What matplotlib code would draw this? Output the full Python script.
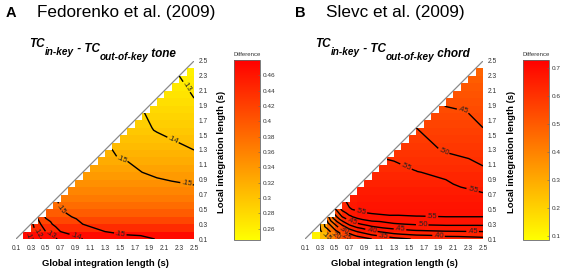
import matplotlib
matplotlib.use("Agg")
import matplotlib.pyplot as plt
import numpy as np
import matplotlib.tri as mtri
from matplotlib.path import Path

plt.rcParams['font.family'] = ['Liberation Sans', 'DejaVu Sans']

W, H = 567, 270

# ---------------- data ----------------
grid_edges = [0.1, 0.2, 0.3, 0.4, 0.5, 0.6, 0.7, 0.8, 0.9, 1.0, 1.1, 1.2, 1.3,
              1.4, 1.5, 1.6, 1.7, 1.8, 1.9, 2.0, 2.1, 2.2, 2.3, 2.4, 2.5]
tick_values = [0.1, 0.3, 0.5, 0.7, 0.9, 1.1, 1.3, 1.5, 1.7, 1.9, 2.1, 2.3, 2.5]
tick_labels = ['0.1', '0.3', '0.5', '0.7', '0.9', '1.1', '1.3', '1.5', '1.7',
               '1.9', '2.1', '2.3', '2.5']

# Panel A: colour (difference) per row of local integration length 0.1 .. 2.3
diff_a_rows = [0.470, 0.440, 0.415, 0.395, 0.380, 0.368, 0.357, 0.347, 0.338,
               0.330, 0.322, 0.315, 0.308, 0.302, 0.296, 0.290, 0.285, 0.280,
               0.275, 0.270, 0.266, 0.262, 0.258]
clim_a = (0.245, 0.48)
cbar_a_ticks = [0.26, 0.28, 0.30, 0.32, 0.34, 0.36, 0.38, 0.40, 0.42, 0.44, 0.46]

# Panel B: colour per row, plus the lighter cells in the lower-left corner
diff_b_rows = [0.640, 0.670, 0.680, 0.685, 0.680, 0.670, 0.660, 0.645, 0.635,
               0.620, 0.610, 0.600, 0.590, 0.580, 0.570, 0.560, 0.550, 0.540,
               0.530, 0.520, 0.510, 0.495, 0.480]
diff_b_corner = [[0.12, 0.26, 0.40, 0.50, 0.56, 0.60],
                 [0.30, 0.45, 0.55, 0.60, 0.64],
                 [0.45, 0.56, 0.63, 0.66],
                 [0.56, 0.64, 0.67],
                 [0.63, 0.67],
                 [0.66]]
clim_b = (0.086, 0.73)
cbar_b_ticks = [0.1, 0.2, 0.3, 0.4, 0.5, 0.6, 0.7]

# Contoured measure, sampled at (global, local) nodes with local <= global
nodes_a = [0.1, 0.2, 0.3, 0.4, 0.5, 0.7, 1.0, 1.3, 1.6, 2.0, 2.5]
tc_a = [
    [0.100, 0.106, 0.112, 0.118, 0.123, 0.132, 0.140, 0.146, 0.1475, 0.1502, 0.153],
    [0.108, 0.114, 0.122, 0.130, 0.140, 0.147, 0.150, 0.152, 0.153, 0.154],
    [0.117, 0.127, 0.136, 0.145, 0.150, 0.153, 0.154, 0.155, 0.155],
    [0.132, 0.141, 0.148, 0.152, 0.154, 0.155, 0.155, 0.155],
    [0.144, 0.150, 0.153, 0.155, 0.156, 0.156, 0.156],
    [0.152, 0.154, 0.156, 0.157, 0.156, 0.153],
    [0.153, 0.153, 0.152, 0.148, 0.146],
    [0.151, 0.148, 0.144, 0.140],
    [0.145, 0.139, 0.134],
    [0.136, 0.130],
    [0.126],
]
levels_a = [0.11, 0.12, 0.13, 0.14, 0.15]

nodes_b = [0.1, 0.2, 0.3, 0.4, 0.5, 0.6, 0.7, 0.8, 1.0, 1.3, 1.6, 2.0, 2.5]
tc_b = [
    [0.10, 0.105, 0.12, 0.14, 0.17, 0.21, 0.245, 0.27, 0.30, 0.335, 0.355, 0.375, 0.385],
    [0.11, 0.14, 0.18, 0.23, 0.28, 0.32, 0.35, 0.39, 0.425, 0.44, 0.447, 0.45],
    [0.15, 0.23, 0.30, 0.36, 0.41, 0.44, 0.475, 0.495, 0.505, 0.51, 0.51],
    [0.28, 0.38, 0.45, 0.49, 0.515, 0.535, 0.545, 0.548, 0.55, 0.55],
    [0.44, 0.51, 0.545, 0.56, 0.57, 0.57, 0.57, 0.57, 0.565],
    [0.53, 0.565, 0.575, 0.58, 0.58, 0.578, 0.575, 0.565],
    [0.56, 0.58, 0.585, 0.585, 0.58, 0.57, 0.555],
    [0.575, 0.585, 0.58, 0.575, 0.56, 0.535],
    [0.58, 0.57, 0.552, 0.54, 0.51],
    [0.53, 0.52, 0.495, 0.475],
    [0.50, 0.475, 0.45],
    [0.44, 0.43],
    [0.41],
]
levels_b = [0.15, 0.20, 0.25, 0.30, 0.35, 0.40, 0.45, 0.50, 0.55]

# where the contour labels sit (layout)
label_pos_a = [(2.4, 2.15), (2.2, 1.4), (1.5, 1.08), (2.4, 0.85), (0.68, 0.47),
               (1.5, 0.13), (0.9, 0.13), (0.55, 0.13), (0.36, 0.16), (0.27, 0.12)]
label_pos_b = [(2.2, 1.7), (1.93, 1.21), (1.45, 1.05), (2.34, 0.68),
               (0.85, 0.45), (1.81, 0.39), (0.74, 0.36), (1.68, 0.28),
               (1.38, 0.22), (2.36, 0.2), (1.9, 0.13), (0.99, 0.19),
               (1.15, 0.11), (0.38, 0.13), (0.5, 0.13), (0.65, 0.13),
               (0.62, 0.22)]


# ---------------- helpers ----------------
def cell_grid(row_vals, corner=None):
    n = len(grid_edges) - 1
    C = np.full((n, n), np.nan)
    for j, v in enumerate(row_vals):
        for i in range(j + 1, n):
            C[j, i] = v
    if corner:
        for j, vals in enumerate(corner):
            for k, v in enumerate(vals):
                C[j, j + 1 + k] = v
    return np.ma.masked_invalid(C)


def stair_path():
    e = grid_edges
    verts = [(e[1], e[0])]
    for i in range(1, len(e) - 1):
        verts.append((e[i], e[i]))
        verts.append((e[i + 1], e[i]))
    verts.append((e[-1], e[0]))
    verts.append((e[1], e[0]))
    return Path(verts, closed=True)


def tri_points(nodes, rows):
    xs, ys, zs = [], [], []
    for j, y in enumerate(nodes):
        for k, z in enumerate(rows[j]):
            xs.append(nodes[j + k])
            ys.append(y)
            zs.append(z)
    return mtri.Triangulation(xs, ys), np.array(zs)


def fmt(v):
    return f"{v:.2f}"[1:]


def px_rect(x0, top, w, h):
    return [x0 / W, 1 - (top + h) / H, w / W, h / H]


def build_panel(fig, dx, letter, title, sub_word, row_vals, corner, clim,
                cticks, nodes, tcvals, levels, label_pos):
    ax = fig.add_axes(px_rect(16 + dx, 61, 178, 178))
    mesh = ax.pcolormesh(grid_edges, grid_edges, cell_grid(row_vals, corner),
                         cmap='autumn_r', vmin=clim[0], vmax=clim[1],
                         shading='flat', antialiased=False, linewidth=0)
    ax.plot([grid_edges[0], grid_edges[-1]], [grid_edges[0], grid_edges[-1]],
            color='#8a8a8a', lw=0.9, solid_capstyle='butt')
    ax.set_xlim(grid_edges[0], grid_edges[-1])
    ax.set_ylim(grid_edges[0], grid_edges[-1])
    tri, z = tri_points(nodes, tcvals)
    cs = ax.tricontour(tri, z, levels=levels, colors='k', linewidths=1.0)
    cs.set_clip_path(stair_path(), ax.transData)
    labels = ax.clabel(cs, fmt=fmt, fontsize=5.5, inline=True, inline_spacing=1,
                       manual=label_pos)
    for t in labels:
        t.set_color('#222222')
    for s in ax.spines.values():
        s.set_visible(False)
    ax.set_xticks(tick_values)
    ax.set_xticklabels(tick_labels)
    ax.set_yticks(tick_values)
    ax.set_yticklabels(tick_labels)
    ax.yaxis.tick_right()
    ax.tick_params(axis='x', length=0, pad=4.2, labelsize=4.8, labelcolor='#333333')
    ax.tick_params(axis='y', length=0, pad=3.4, labelsize=4.8, labelcolor='#333333')

    # colour bar
    cax = fig.add_axes(px_rect(234 + dx, 60, 26, 180))
    cb = fig.colorbar(mesh, cax=cax, ticks=cticks)
    cb.ax.set_yticklabels([f"{t:g}" for t in cticks])
    cb.outline.set_edgecolor('#666666')
    cb.outline.set_linewidth(0.6)
    cax.tick_params(length=1.5, width=0.4, direction='in', color='#666666',
                    labelsize=4.6, pad=2.2, labelcolor='#333333')
    fig.text((247 + dx) / W, 1 - 56 / H, 'Difference', fontsize=4.3,
             ha='center', va='baseline', color='#333333')

    # labels
    fig.text((105 + dx) / W, 1 - 263 / H, 'Global integration length (s)',
             fontsize=6.8, fontweight='bold', ha='center', va='center')
    fig.text((222 + dx) / W, 1 - 152 / H, 'Local integration length (s)',
             fontsize=6.8, fontweight='bold', ha='center', va='center',
             rotation=90)

    # panel titles
    fig.text((6 + dx) / W, 1 - 17 / H, letter, fontsize=10.5,
             fontweight='bold', va='baseline')
    fig.text((37 + dx) / W, 1 - 17 / H, title, fontsize=12.3, va='baseline')

    # subtitle  TC_in-key - TC_out-of-key word
    kw = dict(fontweight='bold', fontstyle='italic', va='baseline')
    t0 = fig.text((29 + dx - (3 if dx > 0 else 0)) / W, 1 - 47 / H, 'TC',
                  fontsize=8.5, **kw)
    parts = [('in-key', 7.2, -3.3), (' - TC', 8.5, 0.0),
             ('out-of-key', 7.2, -3.3), (' ' + sub_word, 8.5, 0.0)]
    prev = t0
    base_off = 0.0
    for s, fs, off in parts:
        prev = ax.annotate(s, xy=(1, 0), xycoords=prev,
                           xytext=(0, off - base_off), textcoords='offset points',
                           fontsize=fs, annotation_clip=False, **kw)
        base_off = off
    return ax


fig = plt.figure(figsize=(W / 100, H / 100), dpi=100)
fig.patch.set_facecolor('white')

build_panel(fig, 0, 'A', 'Fedorenko et al. (2009)', 'tone', diff_a_rows, None,
            clim_a, cbar_a_ticks, nodes_a, tc_a, levels_a, label_pos_a)
build_panel(fig, 289, 'B', 'Slevc et al. (2009)', 'chord', diff_b_rows,
            diff_b_corner, clim_b, cbar_b_ticks, nodes_b, tc_b, levels_b,
            label_pos_b)

fig.savefig('out.png', dpi=100, facecolor='white')
